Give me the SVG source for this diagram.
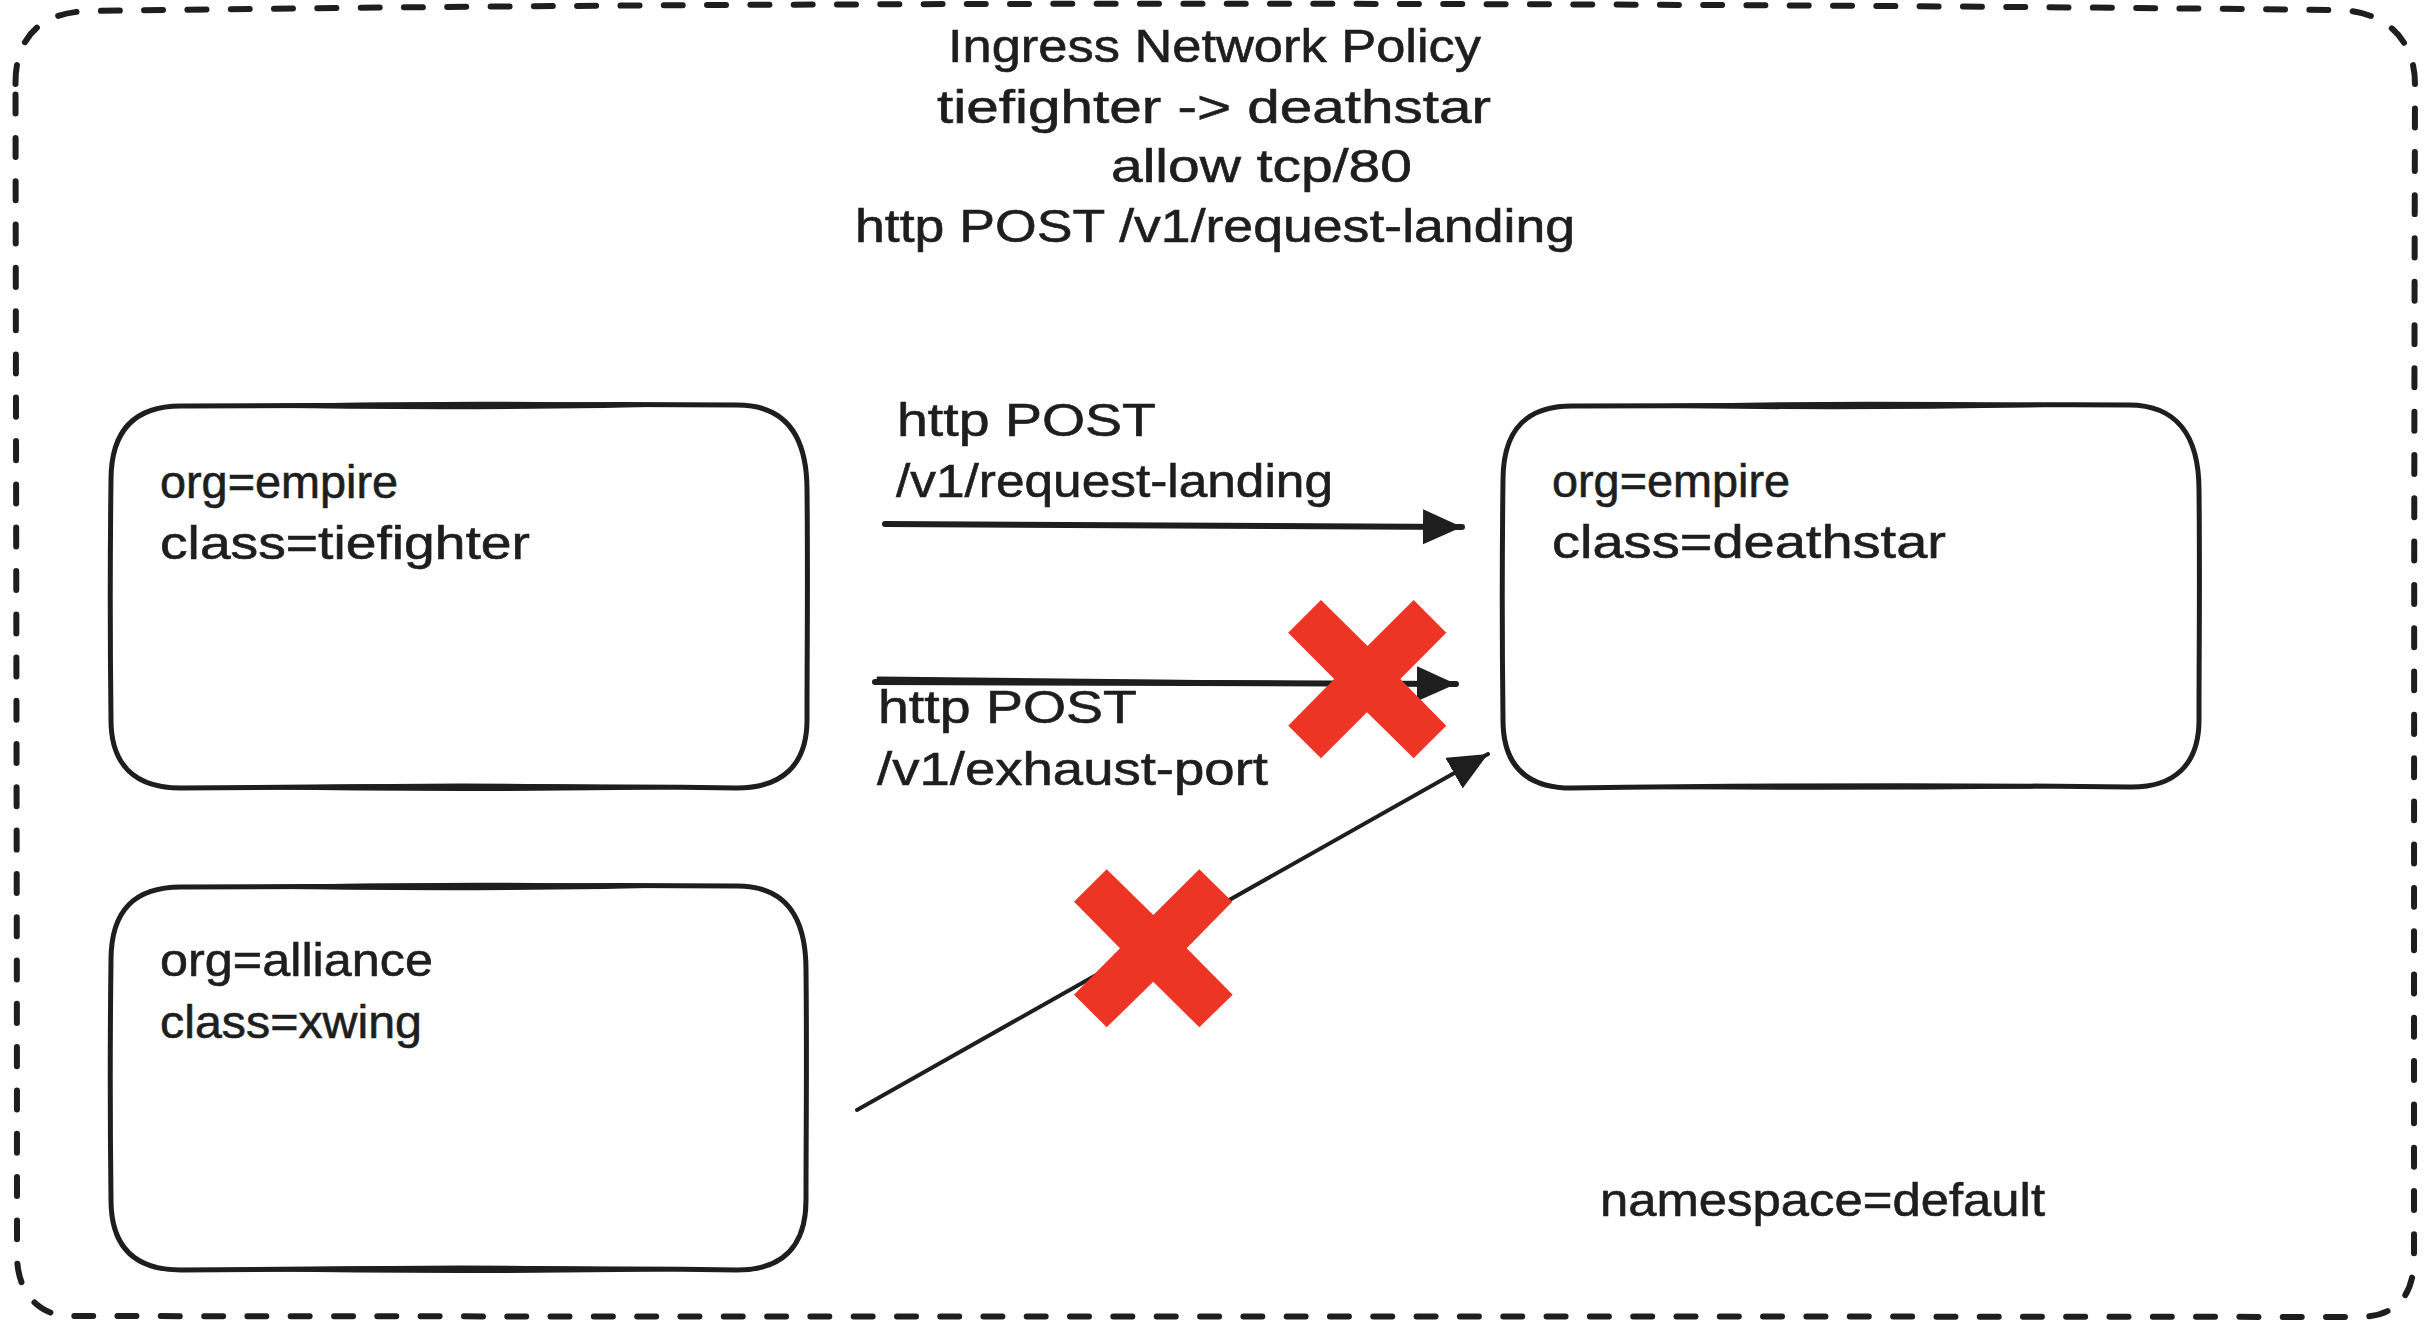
<svg xmlns="http://www.w3.org/2000/svg" width="2434" height="1336" viewBox="0 0 2434 1336">
  <style>
    text { font-family: "Liberation Sans", Arial, sans-serif; font-size: 46px; fill: #1e1e1e; stroke: #1e1e1e; stroke-width: 0.6; }
    .frame { fill: none; stroke: #1e1e1e; stroke-width: 6; stroke-linecap: round; stroke-dasharray: 19 24.3; }
    .box { fill: none; stroke: #1e1e1e; stroke-width: 5; stroke-linecap: round; stroke-linejoin: round; }
    .lens { fill: #1e1e1e; stroke: none; }
    .arrow { fill: none; stroke: #1e1e1e; stroke-linecap: round; }
    .cross { fill: #ec3525; stroke: none; }
  </style>
  <defs>
    <marker id="head" markerUnits="userSpaceOnUse" markerWidth="42" markerHeight="36" refX="39" refY="17.5" orient="auto">
      <path d="M0,0 L39,17.5 L0,35 Z" fill="#1e1e1e"/>
    </marker>
  </defs>
  <rect width="2434" height="1336" fill="#ffffff"/>

  <g id="namespace-frame">
    <path class="frame" d="M 15.5,84 C 15,38 40,11 92,11 C 800,1 1600,2 2338,10 C 2388,11 2415,42 2415,84 C 2414,500 2414,900 2414,1258 C 2414,1298 2394,1317 2358,1317 C 1600,1316 800,1317 70,1316 C 38,1316 17,1292 17,1255 C 17,900 16,500 15.5,84 Z"/>
    <text x="1600" y="1216" textLength="445" lengthAdjust="spacingAndGlyphs">namespace=default</text>
  </g>

  <g id="policy-title">
    <text x="948" y="62" textLength="533" lengthAdjust="spacingAndGlyphs">Ingress Network Policy</text>
    <text x="937" y="123" textLength="554" lengthAdjust="spacingAndGlyphs">tiefighter -&gt; deathstar</text>
    <text x="1111" y="182" textLength="301" lengthAdjust="spacingAndGlyphs">allow tcp/80</text>
    <text x="855" y="242" textLength="720" lengthAdjust="spacingAndGlyphs">http POST /v1/request-landing</text>
  </g>

  <g id="tiefighter">
    <path class="box" d="M 181,406 C 400,404 560,404 737,405 C 785,405 807,435 807,490 C 808,580 807,650 807,720 C 807,765 782,788 737,788 C 560,786 400,786 181,788 C 135,788 111,765 111,720 C 110,640 110,560 111,480 C 111,430 135,406 181,406 Z"/>
    <path class="lens" d="M 190,406 Q 460,398 730,405 Q 460,413 190,406 Z"/>
    <path class="lens" d="M 190,788 Q 460,779 730,788 Q 460,794 190,788 Z"/>
    <text x="160" y="498" textLength="238" lengthAdjust="spacingAndGlyphs">org=empire</text>
    <text x="160" y="559" textLength="370" lengthAdjust="spacingAndGlyphs">class=tiefighter</text>
  </g>

  <g id="deathstar">
    <path class="box" d="M 1572,406 C 1800,404 1960,404 2129,405 C 2176,405 2199,435 2199,490 C 2200,580 2199,650 2199,720 C 2199,765 2174,788 2129,787 C 1960,785 1800,785 1572,788 C 1526,788 1503,765 1503,720 C 1502,640 1502,560 1503,480 C 1503,430 1526,406 1572,406 Z"/>
    <path class="lens" d="M 1580,406 Q 1850,398 2122,405 Q 1850,413 1580,406 Z"/>
    <path class="lens" d="M 1580,788 Q 1850,781 2122,787 Q 1850,792 1580,788 Z"/>
    <text x="1552" y="497" textLength="238" lengthAdjust="spacingAndGlyphs">org=empire</text>
    <text x="1552" y="558" textLength="394" lengthAdjust="spacingAndGlyphs">class=deathstar</text>
  </g>

  <g id="xwing">
    <path class="box" d="M 181,887 C 400,885 560,885 737,886 C 785,886 806,916 806,970 C 807,1060 806,1130 806,1200 C 806,1247 782,1270 737,1270 C 560,1268 400,1268 181,1270 C 135,1270 111,1247 111,1200 C 110,1120 110,1040 111,960 C 111,910 135,887 181,887 Z"/>
    <path class="lens" d="M 190,887 Q 460,879 730,886 Q 460,894 190,887 Z"/>
    <path class="lens" d="M 190,1270 Q 460,1261 730,1270 Q 460,1276 190,1270 Z"/>
    <text x="160" y="976" textLength="273" lengthAdjust="spacingAndGlyphs">org=alliance</text>
    <text x="160" y="1038" textLength="262" lengthAdjust="spacingAndGlyphs">class=xwing</text>
  </g>

  <g id="connectors">
    <path class="arrow" stroke-width="6" marker-end="url(#head)" d="M 885,524 L 1462,527"/>
    <path class="arrow" stroke-width="6" marker-end="url(#head)" d="M 875,682 L 1456,684"/>
    <path class="arrow" stroke-width="3" d="M 878,678 L 1340,683"/>
    <path class="arrow" stroke-width="4" marker-end="url(#head)" d="M 857,1110 L 1488,754"/>
  </g>

  <g id="labels">
    <text x="897" y="436" textLength="259" lengthAdjust="spacingAndGlyphs">http POST</text>
    <text x="896" y="497" textLength="437" lengthAdjust="spacingAndGlyphs">/v1/request-landing</text>
    <text x="878" y="723" textLength="259" lengthAdjust="spacingAndGlyphs">http POST</text>
    <text x="877" y="785" textLength="391" lengthAdjust="spacingAndGlyphs">/v1/exhaust-port</text>
  </g>

  <g id="deny-crosses">
    <polygon id="deny-http" class="cross" points="1321,600 1367.5,646 1413.7,600 1446.3,632.7 1400.3,679 1446.3,725.7 1413.7,758.3 1367,712.3 1321,758.3 1288.2,725.7 1334.2,679 1288.2,632.7"/>
    <polygon id="deny-xwing" class="cross" points="1106.7,869.3 1153.3,915 1199.3,869.3 1232.3,901.7 1186.7,948.3 1232.7,994.7 1199.3,1027.3 1153.3,981.7 1106.7,1027.3 1074,994.7 1120,948.3 1074,901.7"/>
  </g>
</svg>
